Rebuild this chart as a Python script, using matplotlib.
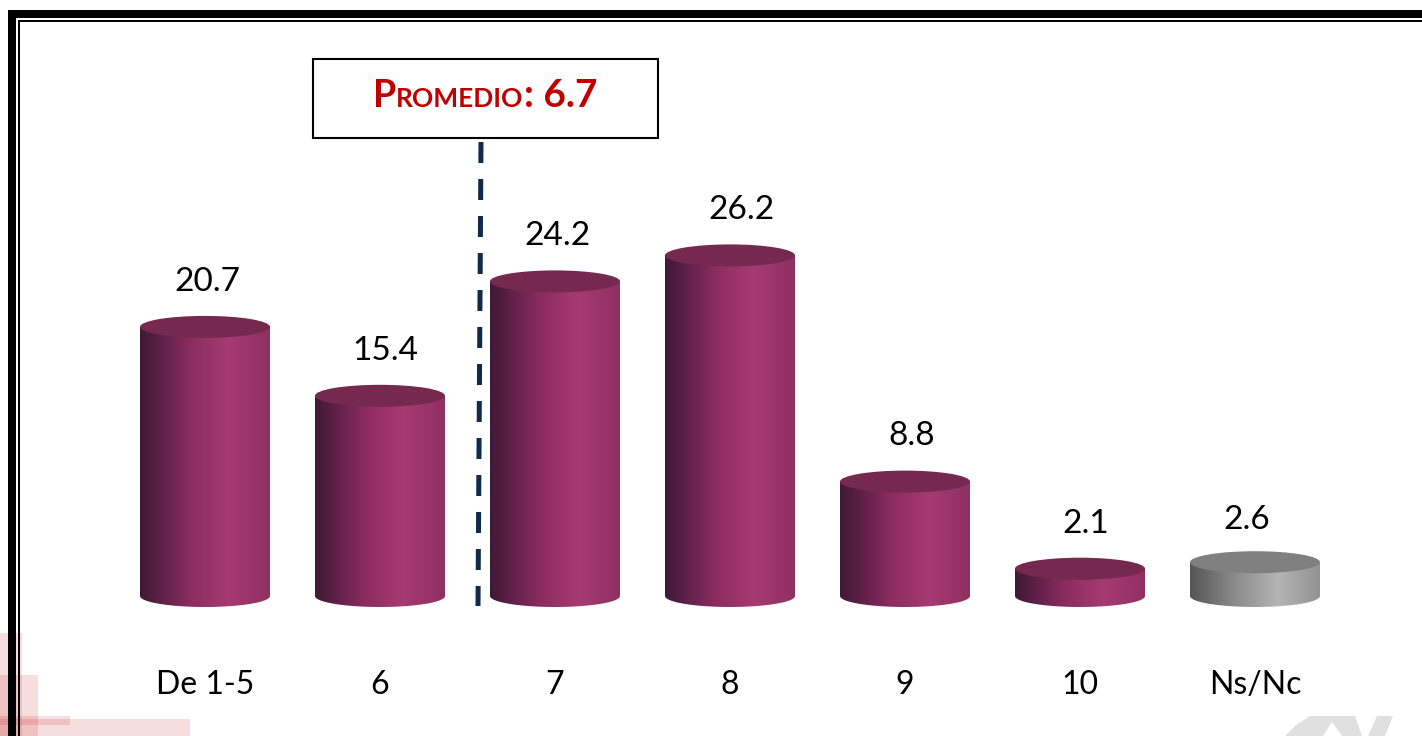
import matplotlib
matplotlib.use("Agg")
import matplotlib.pyplot as plt
import numpy as np
from matplotlib.colors import LinearSegmentedColormap
from matplotlib.patches import Ellipse, PathPatch, Polygon, Rectangle
from matplotlib.path import Path

categories = ["De 1-5", "6", "7", "8", "9", "10", "Ns/Nc"]
values = [20.7, 15.4, 24.2, 26.2, 8.8, 2.1, 2.6]
value_labels = ["20.7", "15.4", "24.2", "26.2", "8.8", "2.1", "2.6"]

# hand placement of the value labels, in px
label_dx = [2.5, 5, 2, 11, 7, 6, -8]
label_dy = [36, 36, 36, 36, 37, 36, 33]

plt.rcParams["font.family"] = ["Lato", "DejaVu Sans"]

W, H = 1422, 736
fig = plt.figure(figsize=(W / 100, H / 100), dpi=100, facecolor="white")

# background layer in pixels, for the frame and the watermark
bg = fig.add_axes([0, 0, 1, 1])
bg.set_xlim(0, W)
bg.set_ylim(H, 0)
bg.axis("off")

pink = "#c00000"
for x0, y0, x1, y1, a in [(0, 633, 22, 736, 0.13), (0, 675, 38, 736, 0.13),
                          (0, 716, 70, 725, 0.13), (0, 719, 190, 736, 0.13)]:
    bg.add_patch(Rectangle((x0, y0), x1 - x0, y1 - y0, fc=pink, ec="none", alpha=a))
bg.add_patch(Polygon([(1285, 736), (1296, 725), (1310, 716), (1355, 716), (1362, 736),
                      (1342, 736), (1332, 722), (1323, 736)],
                     fc="#e0e0e0", ec="none"))
bg.add_patch(Polygon([(1368, 736), (1377, 716), (1393, 716), (1385, 736)], fc="#e0e0e0", ec="none"))

# frame, open on the right and at the bottom
bg.add_patch(Rectangle((8, 10), W - 8, 8, fc="black", ec="none"))
bg.add_patch(Rectangle((8, 10), 8, H - 10, fc="black", ec="none"))
bg.add_patch(Rectangle((18, 20), W - 18, 2, fc="black", ec="none"))
bg.add_patch(Rectangle((18, 20), 2, H - 20, fc="black", ec="none"))

# data layer: one x unit is 175 px, one y unit is 13 px, baseline at y=596
ax = fig.add_axes([0, 0, 1, 1])
ax.patch.set_alpha(0)
ax.axis("off")

half_w = 65 / 175
ell_h = 22 / 13

wine = LinearSegmentedColormap.from_list(
    "wine", [(0, "#3f1a36"), (0.1, "#521d40"), (0.38, "#8a2c5e"), (0.68, "#a63a72"), (1, "#8f3062")])
grey = LinearSegmentedColormap.from_list(
    "grey", [(0, "#555555"), (0.35, "#8c8c8c"), (0.68, "#b4b4b4"), (1, "#939393")])
ramp = np.linspace(0, 1, 256).reshape(1, -1)

for i, v in enumerate(values):
    is_other = categories[i] == "Ns/Nc"
    cmap = grey if is_other else wine
    # side of the cylinder: rectangle closed by the lower half ellipse
    t = np.linspace(np.pi, 2 * np.pi, 60)
    xs = i + half_w * np.cos(t)
    ys = ell_h / 2 * np.sin(t)
    verts = [(i - half_w, v)] + list(zip(xs, ys)) + [(i + half_w, v), (i - half_w, v)]
    clip = PathPatch(Path(verts), transform=ax.transData, fc="none", ec="none")
    ax.add_patch(clip)
    im = ax.imshow(ramp, cmap=cmap, aspect="auto", extent=(i - half_w, i + half_w, -ell_h, v),
                   zorder=2)
    im.set_clip_path(clip)
    top = "#808080" if is_other else "#75294f"
    ax.add_patch(Ellipse((i, v), 2 * half_w, ell_h, fc=top, ec="none", zorder=3))
    ax.text(i + label_dx[i] / 175, v + label_dy[i] / 13, value_labels[i], ha="center",
            va="baseline", fontsize=24, color="black", zorder=4)
    ax.text(i, -(694 - 596) / 13, categories[i], ha="center", va="baseline",
            fontsize=23, color="black", zorder=4)

ax.set_xlim(-205 / 175, (W - 205) / 175)
ax.set_ylim(-(H - 596) / 13, 596 / 13)

# top layer in pixels for the average line and box
fg = fig.add_axes([0, 0, 1, 1])
fg.patch.set_alpha(0)
fg.set_xlim(0, W)
fg.set_ylim(H, 0)
fg.axis("off")

fg.plot([481, 478], [142, 606], color="#11294a", lw=3.6, linestyle=(0, (21 / 5, 16 / 5)),
        dash_capstyle="butt")
fg.add_patch(Rectangle((312.5, 58.5), 345, 79, fc="white", ec="black", lw=1.5))

fig.canvas.draw()
rend = fig.canvas.get_renderer()
x_cur = 373
for part, size in [("P", 27), ("ROMEDIO", 19), (": 6.7", 28)]:
    t = fg.text(x_cur, 107, part, fontsize=size, fontweight="bold", color="#c00000",
                ha="left", va="baseline")
    x_cur = t.get_window_extent(rend).x1

fig.savefig("out.png", dpi=100)
